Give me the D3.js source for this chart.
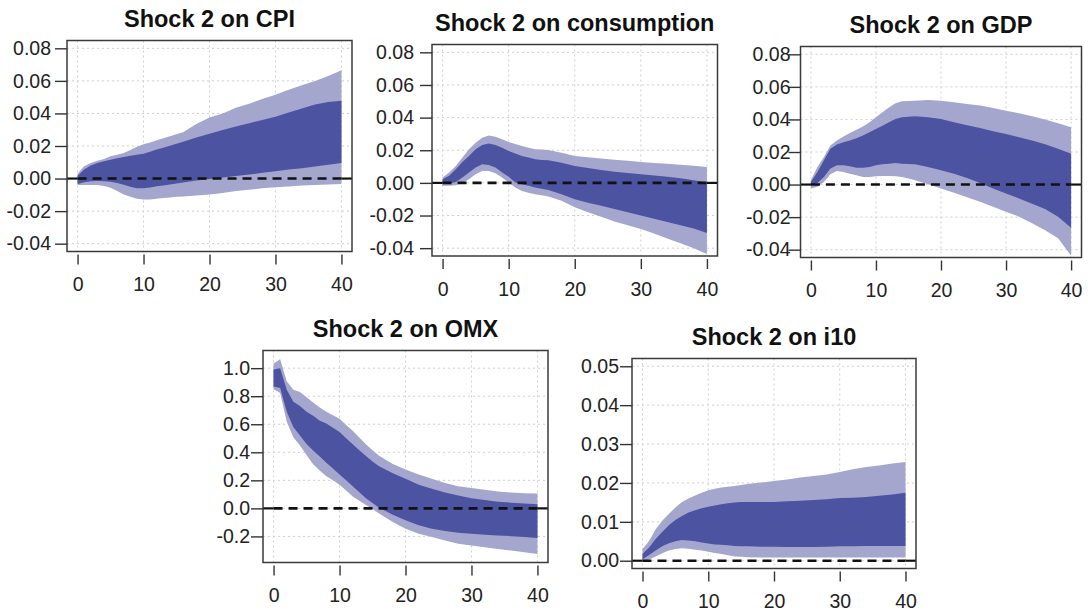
<!DOCTYPE html>
<html>
<head>
<meta charset="utf-8">
<script src="https://cdn.jsdelivr.net/npm/d3@7"></script>
<style>
  html, body { margin: 0; padding: 0; background: #ffffff; }
  svg { display: block; }
  text { font-family: "Liberation Sans", Arial, sans-serif; }
</style>
</head>
<body>
<svg id="chart" width="1088" height="615"></svg>
<script>
// ---------------- DATA ----------------
const horizons = [0,1,2,3,4,5,6,7,8,9,10,11,12,13,14,15,16,18,20,22,24,26,28,30,32,34,36,38,40];

const cpiLo95 = [-0.004,-0.004,-0.004,-0.004,-0.0045,-0.0057,-0.0077,-0.0098,-0.0112,-0.0124,-0.0129,-0.0128,-0.0124,-0.012,-0.0116,-0.0112,-0.011,-0.0104,-0.0098,-0.0088,-0.0077,-0.0068,-0.006,-0.0053,-0.0048,-0.0043,-0.0039,-0.0036,-0.0033];
const cpiLo68 = [-0.0033,-0.0022,-0.0016,-0.0015,-0.0016,-0.002,-0.0027,-0.0038,-0.005,-0.006,-0.006,-0.0055,-0.0047,-0.0042,-0.0036,-0.003,-0.0024,-0.0012,-0.0002,0.0007,0.0016,0.0025,0.0035,0.0045,0.0055,0.0064,0.0074,0.0085,0.0096];
const cpiHi68 = [0.0018,0.0055,0.008,0.0096,0.0106,0.0116,0.0125,0.0133,0.014,0.0147,0.0153,0.0165,0.0178,0.019,0.0202,0.0214,0.0226,0.0252,0.0276,0.0298,0.032,0.034,0.036,0.038,0.0405,0.043,0.0455,0.047,0.0478];
const cpiHi95 = [0.003,0.0075,0.0096,0.011,0.012,0.0137,0.0147,0.0157,0.0175,0.0195,0.021,0.0222,0.0235,0.0248,0.026,0.0272,0.0285,0.0335,0.0375,0.04,0.0435,0.046,0.0488,0.0515,0.0545,0.0573,0.06,0.063,0.0665];

const conLo95 = [-0.0018,-0.0018,-0.0014,0,0.0022,0.0053,0.0073,0.0073,0.0059,0.0033,0.0002,-0.0028,-0.0049,-0.006,-0.0069,-0.0076,-0.0083,-0.011,-0.015,-0.018,-0.0208,-0.0236,-0.026,-0.0283,-0.031,-0.034,-0.037,-0.04,-0.0436];
const conLo68 = [-0.0008,-0.0004,0.0006,0.0033,0.0063,0.0094,0.0114,0.011,0.0094,0.0063,0.0037,0.0002,-0.0008,-0.0018,-0.0029,-0.0036,-0.0043,-0.0069,-0.01,-0.0121,-0.014,-0.016,-0.018,-0.02,-0.022,-0.024,-0.026,-0.028,-0.0307];
const conHi68 = [0.0022,0.0043,0.0083,0.0128,0.0165,0.0206,0.0232,0.0242,0.0232,0.0216,0.0195,0.018,0.0165,0.0155,0.0145,0.0141,0.0138,0.0124,0.0104,0.0092,0.0079,0.0069,0.0061,0.0053,0.0045,0.0037,0.0028,0.0016,0.0002];
const conHi95 = [0.0033,0.0063,0.0104,0.0155,0.0206,0.0246,0.0277,0.0291,0.0283,0.0267,0.025,0.0238,0.0226,0.0215,0.0206,0.0204,0.0202,0.0185,0.0165,0.0157,0.0149,0.0142,0.0135,0.0128,0.0122,0.0117,0.0111,0.0105,0.0098];

const gdpLo95 = [-0.0024,-0.0014,0.0016,0.0063,0.0083,0.0077,0.0067,0.0057,0.0047,0.0047,0.0051,0.0053,0.0053,0.0051,0.0047,0.0037,0.0026,0.0002,-0.0024,-0.0051,-0.0078,-0.0106,-0.0136,-0.0167,-0.0197,-0.0238,-0.028,-0.033,-0.0438];
const gdpLo68 = [-0.0004,0.001,0.0047,0.0098,0.0118,0.0118,0.0112,0.0104,0.0104,0.0108,0.0118,0.0124,0.0128,0.0132,0.0128,0.0126,0.0124,0.0108,0.0088,0.0067,0.004,0.001,-0.0024,-0.0055,-0.0085,-0.0118,-0.015,-0.0197,-0.0265];
const gdpHi68 = [0.0016,0.0077,0.0149,0.022,0.0246,0.026,0.0271,0.0285,0.0301,0.0322,0.0342,0.0362,0.0383,0.0403,0.0413,0.0416,0.0419,0.0413,0.0403,0.0383,0.0365,0.0347,0.0328,0.0311,0.0291,0.027,0.0248,0.022,0.0189];
const gdpHi95 = [0.0026,0.0108,0.0169,0.024,0.0271,0.0295,0.0316,0.0336,0.0356,0.0383,0.0413,0.0444,0.0474,0.0499,0.0511,0.0513,0.0515,0.0519,0.0515,0.0505,0.0495,0.0485,0.047,0.0454,0.0438,0.042,0.04,0.0377,0.0352];

const omxLo95 = [0.85,0.822,0.617,0.508,0.448,0.38,0.315,0.27,0.229,0.2,0.169,0.127,0.084,0.054,0.024,-0.005,-0.036,-0.096,-0.145,-0.181,-0.205,-0.229,-0.253,-0.265,-0.277,-0.289,-0.301,-0.313,-0.325];
const omxLo68 = [0.87,0.858,0.689,0.58,0.52,0.46,0.412,0.37,0.325,0.285,0.241,0.2,0.157,0.115,0.072,0.038,0.005,-0.043,-0.084,-0.12,-0.145,-0.161,-0.173,-0.181,-0.188,-0.193,-0.198,-0.205,-0.212];
const omxHi68 = [0.99,1.0,0.846,0.761,0.73,0.69,0.66,0.625,0.605,0.575,0.545,0.5,0.458,0.415,0.373,0.335,0.301,0.253,0.212,0.169,0.14,0.113,0.092,0.072,0.06,0.048,0.041,0.034,0.029];
const omxHi95 = [1.034,1.063,0.906,0.846,0.83,0.793,0.755,0.72,0.69,0.665,0.639,0.595,0.554,0.505,0.458,0.415,0.375,0.318,0.277,0.241,0.212,0.181,0.157,0.145,0.133,0.12,0.113,0.108,0.106];

const i10Lo95 = [-0.0004,0.0003,0.0011,0.0019,0.0026,0.003,0.0032,0.0031,0.0028,0.0026,0.0023,0.002,0.0017,0.0014,0.0011,0.001,0.0009,0.0008,0.0008,0.0008,0.0008,0.0008,0.0008,0.0008,0.0008,0.0008,0.0008,0.0008,0.0008];
const i10Lo68 = [0.0004,0.0015,0.0026,0.0037,0.0045,0.005,0.0053,0.0052,0.005,0.0047,0.0044,0.0042,0.0041,0.004,0.0038,0.0037,0.0037,0.0036,0.0036,0.0035,0.0035,0.0035,0.0036,0.0037,0.0037,0.0038,0.0038,0.0038,0.0038];
const i10Hi68 = [0.0017,0.0034,0.0056,0.0074,0.0091,0.0105,0.0115,0.0124,0.013,0.0135,0.0139,0.0142,0.0145,0.0148,0.015,0.0151,0.0151,0.0151,0.0151,0.0153,0.0154,0.0156,0.0158,0.0161,0.0162,0.0164,0.0167,0.017,0.0175];
const i10Hi95 = [0.003,0.0051,0.0081,0.0103,0.012,0.0137,0.0151,0.016,0.0168,0.0175,0.0181,0.0185,0.0188,0.019,0.0192,0.0195,0.0197,0.0201,0.0205,0.0209,0.0214,0.0218,0.0222,0.0228,0.0235,0.0241,0.0245,0.025,0.0254];

const titles = ["Shock 2 on CPI", "Shock 2 on consumption", "Shock 2 on GDP", "Shock 2 on OMX", "Shock 2 on i10"];
const xTicks = [0, 10, 20, 30, 40];
const smallTicks = [-0.04, -0.02, 0, 0.02, 0.04, 0.06, 0.08];
const omxTicks = [-0.2, 0, 0.2, 0.4, 0.6, 0.8, 1.0];
const i10Ticks = [0, 0.01, 0.02, 0.03, 0.04, 0.05];

// ---------------- LAYOUT ----------------
const panels = [
  { title: titles[0], lo95: cpiLo95, lo68: cpiLo68, hi68: cpiHi68, hi95: cpiHi95,
    ylim: [-0.04, 0.08], ticks: smallTicks, fmt: ".2f", box: [67, 40.5, 352, 251.5], lgap: 4 },
  { title: titles[1], lo95: conLo95, lo68: conLo68, hi68: conHi68, hi95: conHi95,
    ylim: [-0.04, 0.08], ticks: smallTicks, fmt: ".2f", box: [432, 44.5, 717.5, 256], lgap: 6 },
  { title: titles[2], lo95: gdpLo95, lo68: gdpLo68, hi68: gdpHi68, hi95: gdpHi95,
    ylim: [-0.04, 0.08], ticks: smallTicks, fmt: ".2f", box: [800.5, 46.5, 1081.5, 257.5], lgap: -2 },
  { title: titles[3], lo95: omxLo95, lo68: omxLo68, hi68: omxHi68, hi95: omxHi95,
    ylim: [-0.33, 1.07], ticks: omxTicks, fmt: ".1f", box: [263, 350.5, 548, 562.5], lgap: 1 },
  { title: titles[4], lo95: i10Lo95, lo68: i10Lo68, hi68: i10Hi68, hi95: i10Hi95,
    ylim: [0, 0.05], ticks: i10Ticks, fmt: ".2f", box: [632, 358.5, 916, 568.5], lgap: 1 }
];

const colLight = "#a4a6cd";
const colDark = "#4c53a1";
const svg = d3.select("#chart");

panels.forEach((p, i) => {
  const [x0, y0, x1, y1] = p.box;
  const xPad = 40 * 0.04;
  const yr = p.ylim[1] - p.ylim[0];
  const x = d3.scaleLinear().domain([0 - xPad, 40 + xPad]).range([x0, x1]);
  const y = d3.scaleLinear().domain([p.ylim[0] - yr * 0.04, p.ylim[1] + yr * 0.04]).range([y1, y0]);

  const g = svg.append("g");
  const clipId = "clip" + i;
  g.append("clipPath").attr("id", clipId)
    .append("rect").attr("x", x0).attr("y", y0).attr("width", x1 - x0).attr("height", y1 - y0);

  // grid
  const grid = g.append("g").attr("stroke", "#cfcfcf").attr("stroke-width", 1).attr("stroke-dasharray", "2,3");
  grid.selectAll("line.v").data(xTicks).join("line")
    .attr("x1", d => x(d)).attr("x2", d => x(d)).attr("y1", y0).attr("y2", y1);
  grid.selectAll("line.h").data(p.ticks).join("line")
    .attr("y1", d => y(d)).attr("y2", d => y(d)).attr("x1", x0).attr("x2", x1);

  const rows = horizons.map((h, k) => ({ h, lo95: p.lo95[k], lo68: p.lo68[k], hi68: p.hi68[k], hi95: p.hi95[k] }));
  const bands = g.append("g").attr("clip-path", `url(#${clipId})`);
  bands.append("path").datum(rows).attr("fill", colLight)
    .attr("d", d3.area().x(d => x(d.h)).y0(d => y(d.lo95)).y1(d => y(d.hi95)));
  bands.append("path").datum(rows).attr("fill", colDark)
    .attr("d", d3.area().x(d => x(d.h)).y0(d => y(d.lo68)).y1(d => y(d.hi68)));

  // zero line: solid outside horizon range, dashed across it
  const zl = g.append("g").attr("stroke", "#111");
  zl.append("line").attr("x1", x0).attr("x2", x(0)).attr("y1", y(0)).attr("y2", y(0)).attr("stroke-width", 2.2);
  zl.append("line").attr("x1", x(40)).attr("x2", x1).attr("y1", y(0)).attr("y2", y(0)).attr("stroke-width", 2.2);
  zl.append("line").attr("x1", x(0)).attr("x2", x(40)).attr("y1", y(0)).attr("y2", y(0))
    .attr("stroke-width", 2.6).attr("stroke-dasharray", "9,6");

  // box
  g.append("rect").attr("x", x0).attr("y", y0).attr("width", x1 - x0).attr("height", y1 - y0)
    .attr("fill", "none").attr("stroke", "#3a3a3a").attr("stroke-width", 1.5);

  // axes
  const fmt = d3.format(p.fmt);
  const yAxis = d3.axisLeft(y).tickValues(p.ticks).tickSize(12).tickPadding(p.lgap)
    .tickFormat(d => fmt(d).replace("\u2212", "-"));
  const ya = g.append("g").attr("transform", `translate(${x0},0)`).call(yAxis);
  ya.select(".domain").remove();
  ya.selectAll(".tick line").attr("stroke", "#333").attr("stroke-width", 1.4);
  ya.selectAll(".tick text").attr("fill", "#222").style("font-size", "19.5px")
    .style("font-family", "'Liberation Sans', Arial, sans-serif");

  const xAxis = d3.axisBottom(x).tickValues(xTicks).tickSize(10).tickPadding(13).tickFormat(d3.format("d"));
  const xa = g.append("g").attr("transform", `translate(0,${y1 + 3})`).call(xAxis);
  xa.select(".domain").remove();
  xa.selectAll(".tick line").attr("stroke", "#333").attr("stroke-width", 1.4);
  xa.selectAll(".tick text").attr("fill", "#222").style("font-size", "19.5px")
    .style("font-family", "'Liberation Sans', Arial, sans-serif");

  // title
  g.append("text").attr("x", (x0 + x1) / 2).attr("y", y0 - 14)
    .attr("text-anchor", "middle").attr("font-weight", "bold").attr("font-size", "23.5px")
    .attr("fill", "#111").text(p.title);
});
</script>
</body>
</html>
